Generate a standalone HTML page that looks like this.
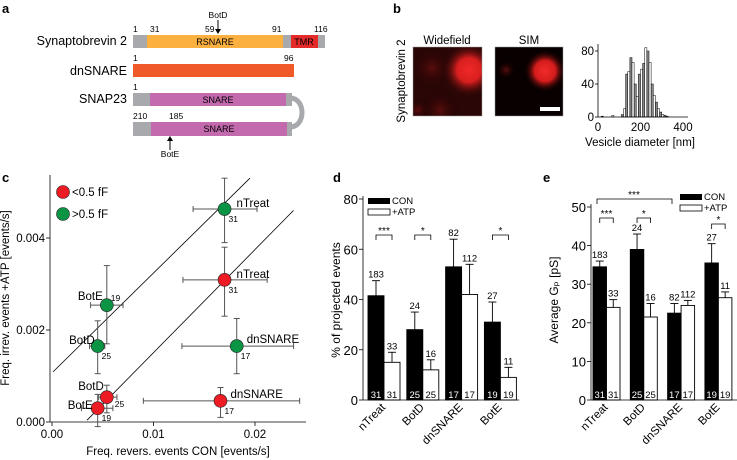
<!DOCTYPE html>
<html><head><meta charset="utf-8"><style>
html,body{margin:0;padding:0;background:#fff;}
svg{display:block;font-family:"Liberation Sans",Arial,sans-serif;}
</style></head><body>
<svg id="fig" width="737" height="460" viewBox="0 0 737 460" xmlns="http://www.w3.org/2000/svg">
<defs>
<radialGradient id="wf1" cx="0.5" cy="0.5" r="0.5"><stop offset="0" stop-color="#f02828"/><stop offset="0.45" stop-color="#d81f1f"/><stop offset="1" stop-color="#300404" stop-opacity="0"/></radialGradient>
<radialGradient id="wf2" cx="0.5" cy="0.5" r="0.5"><stop offset="0" stop-color="#5a0d0d"/><stop offset="1" stop-color="#1a0000" stop-opacity="0"/></radialGradient>
<radialGradient id="sim1" cx="0.5" cy="0.5" r="0.5"><stop offset="0" stop-color="#f22a2a"/><stop offset="0.5" stop-color="#d41c1c"/><stop offset="1" stop-color="#100000" stop-opacity="0"/></radialGradient>
<clipPath id="clipWF"><rect x="413" y="47" width="69" height="69"/></clipPath>
<clipPath id="clipSIM"><rect x="495" y="47" width="68" height="69"/></clipPath>
</defs>

<!-- Panel a -->
<g>
<text x="2" y="13" font-size="13" font-weight="bold">a</text>
<text x="127" y="45" font-size="12.5" text-anchor="end">Synaptobrevin 2</text>
<rect x="133" y="35" width="14" height="13" fill="#a7a9ac"/>
<rect x="147" y="35" width="136" height="13" fill="#fbb040"/>
<rect x="283" y="35" width="8" height="13" fill="#a7a9ac"/>
<rect x="291" y="35" width="27" height="13" fill="#e52a2a"/>
<rect x="318" y="35" width="7" height="13" fill="#a7a9ac"/>
<text x="215" y="45" font-size="9" text-anchor="middle">RSNARE</text>
<text x="304" y="45" font-size="9" text-anchor="middle">TMR</text>
<g font-size="8.5"><text x="133" y="32">1</text><text x="150" y="32">31</text><text x="205" y="32">59</text><text x="272" y="32">91</text><text x="314" y="32">116</text></g>
<text x="218" y="18" font-size="8.5" text-anchor="middle">BotD</text>
<line x1="218" y1="20" x2="218" y2="33" stroke="#000" stroke-width="1"/><path d="M215,29 L218,34 L221,29Z" fill="#000"/>

<text x="127" y="75" font-size="12.5" text-anchor="end">dnSNARE</text>
<rect x="133" y="64" width="161" height="13" fill="#f05a28"/>
<text x="133" y="61" font-size="8.5">1</text><text x="284" y="61" font-size="8.5">96</text>

<text x="127" y="103" font-size="12.5" text-anchor="end">SNAP23</text>
<path d="M290,98 C306,98 306,127 290,127" fill="none" stroke="#a7a9ac" stroke-width="5"/>
<rect x="133" y="93" width="17" height="13" fill="#a7a9ac"/>
<rect x="150" y="93" width="136" height="13" fill="#c36aae"/>
<rect x="286" y="93" width="6" height="13" fill="#a7a9ac"/>
<text x="218" y="103" font-size="9" text-anchor="middle">SNARE</text>
<text x="133" y="90" font-size="8.5">1</text>
<rect x="133" y="122" width="18" height="14" fill="#a7a9ac"/>
<rect x="151" y="122" width="136" height="14" fill="#c36aae"/>
<rect x="287" y="122" width="5" height="14" fill="#a7a9ac"/>
<text x="219" y="132" font-size="9" text-anchor="middle">SNARE</text>
<text x="133" y="119" font-size="8.5">210</text><text x="169" y="119" font-size="8.5">185</text>
<line x1="170" y1="150" x2="170" y2="137" stroke="#000" stroke-width="1"/><path d="M167,141 L170,136 L173,141Z" fill="#000"/>
<text x="170" y="157" font-size="8.5" text-anchor="middle">BotE</text>
</g>

<!-- Panel b -->
<g>
<text x="393" y="13" font-size="13" font-weight="bold">b</text>
<text x="405" y="81" font-size="11.5" text-anchor="middle" transform="rotate(-90 405 81)">Synaptobrevin 2</text>
<text x="447" y="44" font-size="11.5" text-anchor="middle">Widefield</text>
<text x="529" y="44" font-size="11.5" text-anchor="middle">SIM</text>
<g clip-path="url(#clipWF)">
<rect x="413" y="47" width="69" height="69" fill="#2a0606"/>
<circle cx="432" cy="68" r="22" fill="url(#wf2)"/>
<circle cx="440" cy="110" r="20" fill="url(#wf2)"/>
<circle cx="418" cy="110" r="12" fill="url(#wf2)"/>
<circle cx="469" cy="70" r="27" fill="url(#wf1)"/>
</g>
<rect x="413" y="47" width="69" height="69" fill="none" stroke="#999" stroke-width="0.5"/>
<g clip-path="url(#clipSIM)">
<rect x="495" y="47" width="68" height="69" fill="#080000"/>
<circle cx="506" cy="70" r="9" fill="url(#wf2)"/>
<circle cx="545" cy="71" r="21" fill="url(#sim1)"/>
<rect x="540" y="107" width="20" height="4" fill="#fff"/>
</g>
<rect x="495" y="47" width="68" height="69" fill="none" stroke="#999" stroke-width="0.5"/>
<g id="hist"></g>
</g>

<!-- Panel c -->
<g>
<text x="2" y="182" font-size="13" font-weight="bold">c</text>
<g id="scatter"></g>
</g>

<!-- Panel d -->
<g>
<text x="333" y="182" font-size="13" font-weight="bold">d</text>
<g id="barsD"></g>
</g>
<!-- Panel e -->
<g>
<text x="543" y="182" font-size="13" font-weight="bold">e</text>
<g id="barsE"></g>
</g>
</svg>
<script>
// ---------- Histogram data (panel b) ----------
const histBins = [20,70,115,125,135,145,155,165,175,185,195,205,215,225,235,245,255,265,275,285,295,305,315,325];
const histCounts = [1,2,3,10,52,55,72,66,40,25,52,58,65,84,80,66,40,26,18,10,6,3,2,1];
const histXTicks = [0,200,400];
const histYTicks = [0,40,80];

// ---------- Scatter data (panel c) ----------
const scLabels = ["nTreat","nTreat","BotE","BotD","dnSNARE","dnSNARE","BotD","BotE"];
const scN = [31,31,19,25,17,17,25,19];
const scGroup = ["g","r","g","g","g","r","r","r"];
const scX = [0.0170,0.0170,0.0054,0.0045,0.0182,0.0166,0.0054,0.0045];
const scY = [0.00463,0.00309,0.00254,0.00165,0.00165,0.00046,0.00054,0.0003];
const scXLo = [0.0139,0.0129,0.0038,0.0037,0.0128,0.0090,0.0046,0.0029];
const scXHi = [0.0202,0.0212,0.0070,0.0052,0.0238,0.0244,0.0064,0.0060];
const scYLo = [0.0039,0.0023,0.0017,0.00105,0.00105,0.0001,0.0002,-0.0001];
const scYHi = [0.0053,0.0038,0.0034,0.0022,0.00225,0.00075,0.0008,0.0006];
const scXTicks = [0,0.01,0.02];
const scXTickLabels = ["0.00","0.01","0.02"];
const scYTicks = [0,0.002,0.004];
const scYTickLabels = ["0.000","0.002","0.004"];
const lineA = [[0.0001,0.00109],[0.0195,0.0053]];
const lineB = [[0.00345,0.00004],[0.0238,0.0046]];

// ---------- Bar data (panels d, e) ----------
const categories = ["nTreat","BotD","dnSNARE","BotE"];
const dCon = [41.5,28,53,31];
const dConErr = [47.5,35,64,39];
const dAtp = [15,12,42,9];
const dAtpErr = [19,16,54,13];
const dConTop = ["183","24","82","27"];
const dAtpTop = ["33","16","112","11"];
const dYTicks = [0,20,40,60,80];
const eCon = [34.5,39,22.5,35.5];
const eConErr = [36,43,25,40.5];
const eAtp = [24,21.5,24.5,26.5];
const eAtpErr = [26,25,25.8,28];
const eConTop = ["183","24","82","27"];
const eAtpTop = ["33","16","112","11"];
const eYTicks = [0,10,20,30,40,50];
const nCon = ["31","25","17","19"];
const nAtp = ["31","25","17","19"];

const NS = "http://www.w3.org/2000/svg";
function mk(parent, tag, attrs, text){
  const el = document.createElementNS(NS, tag);
  for (const k in attrs) el.setAttribute(k, attrs[k]);
  if (text !== undefined) el.textContent = text;
  parent.appendChild(el);
  return el;
}

// ---- Histogram ----
(function(){
  const g = document.getElementById('hist');
  const x = v => 598 + v*0.2125;
  const y = v => 117 - v*0.825;
  histBins.forEach((b,i)=>{
    const r = mk(g,'rect',{x:x(b-5),y:y(histCounts[i]),width:10*0.2125,height:117-y(histCounts[i]),fill:i%2?'#fff':'#8a8a8a',stroke:'#000','stroke-width':0.5});
    
    
  });
  mk(g,'line',{x1:598,y1:117,x2:688,y2:117,stroke:'#000','stroke-width':0.8});
  mk(g,'line',{x1:598,y1:117,x2:598,y2:44,stroke:'#000','stroke-width':0.8});
  histYTicks.forEach(t=>{
    mk(g,'line',{x1:595,y1:y(t),x2:598,y2:y(t),stroke:'#000','stroke-width':0.8});
    const tx = mk(g,'text',{x:594,y:y(t)+4,'font-size':11.5,'text-anchor':'end'},String(t));
    
    
  });
  histXTicks.forEach(t=>{
    const tx = mk(g,'text',{x:x(t),y:131,'font-size':11.5,'text-anchor':'middle'},String(t));
    
    
  });
  const tt = mk(g,'text',{x:640,y:146,'font-size':11.5,'text-anchor':'middle'},'Vesicle diameter [nm]');
  
  
})();

// ---- Scatter ----
(function(){
  const g = document.getElementById('scatter');
  const x = v => 52 + v*10150;
  const y = v => 422 - v*46000;
  mk(g,'line',{x1:50,y1:422,x2:306,y2:422,stroke:'#000','stroke-width':0.8});
  mk(g,'line',{x1:50,y1:422,x2:50,y2:175,stroke:'#000','stroke-width':0.8});
  scXTicks.forEach((t,i)=>{
    mk(g,'line',{x1:x(t),y1:422,x2:x(t),y2:426,stroke:'#000','stroke-width':0.8});
    const tx = mk(g,'text',{x:x(t),y:438,'font-size':11.5,'text-anchor':'middle'},scXTickLabels[i]);
    
    
  });
  scYTicks.forEach((t,i)=>{
    mk(g,'line',{x1:46,y1:y(t),x2:50,y2:y(t),stroke:'#000','stroke-width':0.8});
    const tx = mk(g,'text',{x:45,y:y(t)+4,'font-size':11.5,'text-anchor':'end'},scYTickLabels[i]);
    
    
  });
  const xt = mk(g,'text',{x:178,y:455,'font-size':11.5,'text-anchor':'middle'},'Freq. revers. events CON [events/s]');
  
  
  const yt = mk(g,'text',{x:9,y:298,'font-size':11.5,'text-anchor':'middle',transform:'rotate(-90 9 298)'},'Freq. irrev. events +ATP [events/s]');
  
  
  [lineA,lineB].forEach(L=>{
    const l = mk(g,'line',{x1:x(L[0][0]),y1:y(L[0][1]),x2:x(L[1][0]),y2:y(L[1][1]),stroke:'#000','stroke-width':0.8});
    
    
  });
  const lblOff = {"nTreat":[12,-6],"BotE":[-2,-11],"BotD":[-4,-11],"dnSNARE":[10,-7]};
  scX.forEach((v,i)=>{
    const cx=x(v), cy=y(scY[i]);
    mk(g,'line',{x1:x(scXLo[i]),y1:cy,x2:x(scXHi[i]),y2:cy,stroke:'#555','stroke-width':1});
    mk(g,'line',{x1:cx,y1:y(scYLo[i]),x2:cx,y2:y(scYHi[i]),stroke:'#555','stroke-width':1});
    [[x(scXLo[i]),cy-3,x(scXLo[i]),cy+3],[x(scXHi[i]),cy-3,x(scXHi[i]),cy+3],[cx-3,y(scYLo[i]),cx+3,y(scYLo[i])],[cx-3,y(scYHi[i]),cx+3,y(scYHi[i])]].forEach(c=>mk(g,'line',{x1:c[0],y1:c[1],x2:c[2],y2:c[3],stroke:'#555','stroke-width':1}));
    const p = mk(g,'circle',{cx:cx,cy:cy,r:6.5,fill:scGroup[i]==='g'?'#0a9444':'#ed1c24',stroke:'#222','stroke-width':0.6});
    
    
    let o = lblOff[scLabels[i]];
    let anchor = (scLabels[i]==='BotE'||scLabels[i]==='BotD')?'end':'start';
    if (scLabels[i]==='BotD' && scGroup[i]==='r') { o=[-3,-11]; }
    if (scLabels[i]==='BotE' && scGroup[i]==='r') { o=[-5,-3]; }
    if (scLabels[i]==='BotE' && scGroup[i]==='g') { o=[-4,-9]; }
    if (scLabels[i]==='BotD' && scGroup[i]==='g') { o=[-3,-6]; }
    const lt = mk(g,'text',{x:cx+o[0],y:cy+o[1]+4,'font-size':11.5,'text-anchor':anchor},scLabels[i]);
    
    
    const nt = mk(g,'text',{x:cx+4,y:cy+(scLabels[i]==='BotE'&&scGroup[i]==='g'?-4:13),'font-size':8.5},String(scN[i]));
    if (scLabels[i]==='BotD' && scGroup[i]==='r'){ nt.setAttribute('x',cx+8); nt.setAttribute('y',cy+10); }
    
    
  });
  // legend
  const lg = mk(g,'g',{});
  
  
  mk(lg,'circle',{cx:63,cy:192,r:6.5,fill:'#ed1c24',stroke:'#222','stroke-width':0.6});
  mk(lg,'text',{x:72,y:196,'font-size':11.5},'<0.5 fF');
  mk(lg,'circle',{cx:63,cy:214,r:6.5,fill:'#0a9444',stroke:'#222','stroke-width':0.6});
  mk(lg,'text',{x:72,y:218,'font-size':11.5},'>0.5 fF');
})();

// ---- Bar charts ----
function barChart(id, o){
  const g = document.getElementById(id);
  const y = v => o.y0 - v*o.scale;
  mk(g,'line',{x1:o.ax,y1:o.y0,x2:o.ax,y2:y(o.ticks[o.ticks.length-1])-3,stroke:'#000','stroke-width':0.8});
  o.ticks.forEach(t=>{
    mk(g,'line',{x1:o.ax-4,y1:y(t),x2:o.ax,y2:y(t),stroke:'#000','stroke-width':0.8});
    const tx = mk(g,'text',{x:o.ax-5,y:y(t)+5,'font-size':13,'text-anchor':'end'},String(t));
    
    
  });
  const yt = mk(g,'text',{x:o.tx,y:o.ty,'font-size':12,'text-anchor':'middle',transform:`rotate(-90 ${o.tx} ${o.ty})`},o.title);
  
  
  categories.forEach((c,i)=>{
    const x0 = o.x0 + i*o.step;
    [[o.con,o.conErr,o.conTop,nCon,'#000',0,'#fff'],[o.atp,o.atpErr,o.atpTop,nAtp,'#fff',o.bw,'#000']].forEach((s,k)=>{
      const bx = x0+s[5];
      const ex = bx+o.bw/2;
      mk(g,'line',{x1:ex,y1:y(s[0][i]),x2:ex,y2:y(s[1][i]),stroke:'#000','stroke-width':0.9});
      mk(g,'line',{x1:ex-4,y1:y(s[1][i]),x2:ex+4,y2:y(s[1][i]),stroke:'#000','stroke-width':0.9});
      const r = mk(g,'rect',{x:bx,y:y(s[0][i]),width:o.bw,height:o.y0-y(s[0][i]),fill:s[4],stroke:'#000','stroke-width':0.9});
      
      
      const nt = mk(g,'text',{x:ex,y:y(s[1][i])-3,'font-size':9.5,'text-anchor':'middle'},s[2][i]);
      
      
      const bt = mk(g,'text',{x:ex,y:o.y0-2,'font-size':9.5,'text-anchor':'middle',fill:s[6]},s[3][i]);
      
      
    });
    const cx = x0+o.bw+2;
    const lt = mk(g,'text',{x:cx,y:o.y0+8,'font-size':11.5,'text-anchor':'end',transform:`rotate(-45 ${cx} ${o.y0+8})`},c);
    
    
  });
  mk(g,'line',{x1:o.ax,y1:o.y0,x2:o.x0+4*o.step-4,y2:o.y0,stroke:'#000','stroke-width':0.8});
  const lg = mk(g,'g',{});
  
  
  mk(lg,'rect',{x:o.lx,y:o.ly,width:22,height:6,fill:'#000'});
  mk(lg,'text',{x:o.lx+24,y:o.ly+6,'font-size':9.5},'CON');
  mk(lg,'rect',{x:o.lx,y:o.ly+11,width:22,height:6,fill:'#fff',stroke:'#000','stroke-width':0.8});
  mk(lg,'text',{x:o.lx+24,y:o.ly+17,'font-size':9.5},'+ATP');
  o.sig.forEach(s=>{
    const xa=o.x0+s[0]*o.step+o.bw/2, xb=o.x0+s[1]*o.step+o.bw*1.5;
    const by=s[2];
    const b = mk(g,'path',{d:`M${xa},${by+5} L${xa},${by} L${xb},${by} L${xb},${by+5}`,fill:'none',stroke:'#000','stroke-width':0.8});
    
    
    mk(g,'text',{x:(xa+xb)/2,y:by-1,'font-size':10,'text-anchor':'middle'},s[3]);
  });
}
barChart('barsD',{ax:363,y0:400,scale:2.5125,x0:368,step:38.8,bw:16,ticks:dYTicks,con:dCon,conErr:dConErr,atp:dAtp,atpErr:dAtpErr,conTop:dConTop,atpTop:dAtpTop,title:'% of projected events',tx:340,ty:300,lx:368,ly:198,sig:[[0,0,235,'***'],[1,1,235,'*'],[3,3,235,'*']]});
barChart('barsE',{ax:591,y0:400,scale:3.86,x0:593,step:37.3,bw:13.5,ticks:eYTicks,con:eCon,conErr:eConErr,atp:eAtp,atpErr:eAtpErr,conTop:eConTop,atpTop:eAtpTop,title:'Average Gₚ [pS]',tx:558,ty:300,lx:680,ly:194,sig:[[0,0,218,'***'],[1,1,218,'*'],[3,3,224,'*']]});
(function(){
  const g=document.getElementById('barsE');
  const b=mk(g,'path',{d:'M597,204 L597,199 L672,199 L672,204',fill:'none',stroke:'#000','stroke-width':0.8});
  
  
  mk(g,'text',{x:634,y:198,'font-size':10,'text-anchor':'middle'},'***');
})();
</script>
</body></html>
